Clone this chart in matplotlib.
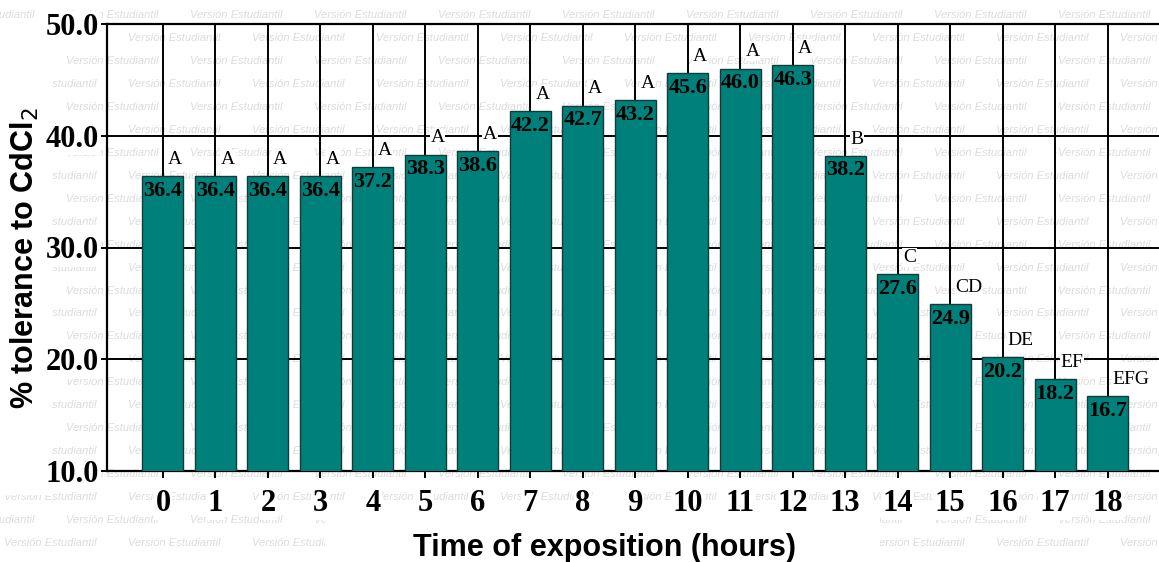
import matplotlib
matplotlib.use("Agg")
import matplotlib.pyplot as plt
from matplotlib.patches import Rectangle

hours = list(range(19))
tolerance = [36.4, 36.4, 36.4, 36.4, 37.2, 38.3, 38.6, 42.2, 42.7, 43.2,
             45.6, 46.0, 46.3, 38.2, 27.6, 24.9, 20.2, 18.2, 16.7]
groups = ["A", "A", "A", "A", "A", "A", "A", "A", "A", "A",
          "A", "A", "A", "B", "C", "CD", "DE", "EF", "EFG"]
yticks = [10.0, 20.0, 30.0, 40.0, 50.0]
watermark = "Versión Estudiantil"

W, H = 1159, 562
fig = plt.figure(figsize=(W / 100, H / 100), dpi=100)
fig.patch.set_facecolor("white")

# white boxes (label backgrounds in the original) over the watermark
xlab_box = (325, 512, 880, 562)   # x0, y0, x1, y1 in pixels from top-left
ylab_box = (0, 25, 52, 495)


def hidden(x0, y, w=107):
    for bx0, by0, bx1, by1 in (xlab_box, ylab_box):
        if x0 >= bx0 and x0 + w <= bx1 and by0 <= y <= by1:
            return True
    return False


# watermark pattern behind everything
row_h = 22.96
period = 124
for k in range(24):
    y = 15 + row_h * k
    off = 66 if k % 2 == 0 else 128
    x = off - period
    while x < W:
        if not hidden(x, y):
            fig.text(x / W, 1 - y / H, watermark, fontsize=8, style="italic",
                     family="Liberation Sans", color="#dcdcdc",
                     ha="left", va="center", zorder=-5)
        x += period

for bx0, by0, bx1, by1 in (xlab_box, ylab_box):
    fig.add_artist(Rectangle((bx0 / W, 1 - by1 / H), (bx1 - bx0) / W,
                             (by1 - by0) / H, transform=fig.transFigure,
                             facecolor="white", edgecolor="none", zorder=-4))

left, right = 107 / W, 1.0
bottom, top = (H - 471) / H, (H - 24) / H
ax = fig.add_axes([left, bottom, right - left, top - bottom])
ax.set_facecolor("none")

ax.bar(hours, tolerance, width=0.78, color="#00807a", edgecolor="#153b38",
       linewidth=1.0, zorder=3)

ax.set_xlim(-1.066, 18.98)
ax.set_ylim(10, 50)
ax.set_yticks(yticks)
ax.set_yticklabels([f"{v:.1f}" for v in yticks])
ax.set_xticks(hours)
ax.set_xticklabels([str(h) for h in hours])

ax.grid(True, color="black", linewidth=1.4, zorder=1)
ax.set_axisbelow(True)

for s in ["left", "bottom", "top"]:
    ax.spines[s].set_linewidth(1.6)
    ax.spines[s].set_color("black")
ax.spines["right"].set_visible(False)

for lbl in ax.get_yticklabels():
    lbl.set_fontfamily("Liberation Serif")
    lbl.set_fontweight("bold")
    lbl.set_fontsize(22)
    lbl.set_bbox(dict(facecolor="white", edgecolor="none", pad=1))
for lbl in ax.get_xticklabels():
    lbl.set_fontfamily("Liberation Serif")
    lbl.set_fontweight("bold")
    lbl.set_fontsize(22)
    lbl.set_bbox(dict(facecolor="white", edgecolor="none", pad=1))
ax.tick_params(axis="y", length=4, width=1.4, pad=2)
ax.tick_params(axis="x", length=5, width=1.4, pad=8)

for h, v, g in zip(hours, tolerance, groups):
    ax.text(h, v - 1.3, f"{v:.1f}", ha="center", va="center",
            fontsize=16, fontweight="bold", family="Liberation Serif",
            color="black", zorder=5)
    ax.text(h + 0.1, v + 1.5, g, ha="left", va="center", fontsize=14,
            family="Liberation Serif", color="black", zorder=5,
            bbox=dict(facecolor="white", edgecolor="none", pad=0.5))

ax.set_xlabel("Time of exposition (hours)", fontsize=22, fontweight="bold",
              family="Liberation Sans", va="center")
ax.xaxis.set_label_coords(0.473, -0.172)
ax.set_ylabel("% tolerance to CdCl$_2$", fontsize=22, fontweight="bold",
              family="Liberation Sans", va="center")
ax.yaxis.set_label_coords(-0.078, 0.477)

fig.savefig("out.png", dpi=100)
